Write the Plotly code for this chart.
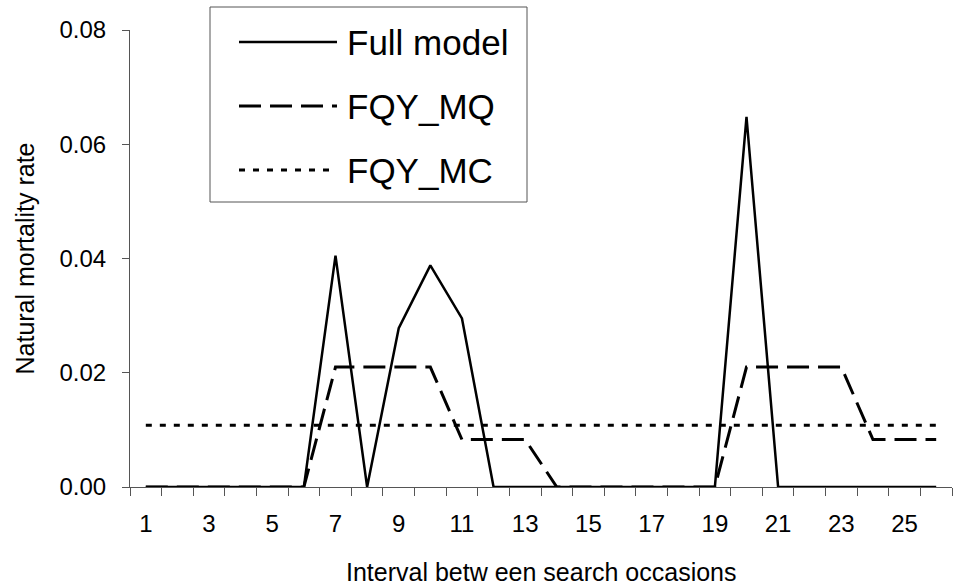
import plotly.graph_objects as go

# ---- data ----
intervals = list(range(1, 27))
full_model = [0, 0, 0, 0, 0, 0, 0.0405, 0, 0.0278, 0.0388, 0.0295, 0, 0, 0, 0, 0, 0, 0, 0,
              0.0648, 0, 0, 0, 0, 0, 0]
fqy_mq = [0, 0, 0, 0, 0, 0, 0.021, 0.021, 0.021, 0.021, 0.0083, 0.0083, 0.0083, 0, 0, 0, 0, 0, 0,
          0.021, 0.021, 0.021, 0.021, 0.0083, 0.0083, 0.0083]
fqy_mc = [0.0108] * 26
series_names = ["Full model", "FQY_MQ", "FQY_MC"]
x_tick_vals = list(range(1, 27, 2))
x_tick_text = [str(v) for v in x_tick_vals]
y_tick_vals = [0, 0.02, 0.04, 0.06, 0.08]
y_tick_text = ["0.00", "0.02", "0.04", "0.06", "0.08"]
x_title = "Interval betw een search occasions"
y_title = "Natural mortality rate"

W, H = 956, 588
L, R, T, B = 130, 4, 30, 101
PW, PH = W - L - R, H - T - B

FONT = "Arial, 'Liberation Sans', sans-serif"
styles = [
    dict(color="black", width=2.5, dash="solid"),
    dict(color="black", width=3, dash="22px,9px"),
    dict(color="black", width=3, dash="6px,8px"),
]

fig = go.Figure()
for name, ys, st in zip(series_names, [full_model, fqy_mq, fqy_mc], styles):
    fig.add_trace(go.Scatter(x=intervals, y=ys, mode="lines", name=name, line=st,
                             showlegend=False))

# custom legend (box + samples + labels), positions in pixels -> paper
def px(x):
    return (x - L) / PW

def py(y):
    return (H - B - y) / PH

shapes = [dict(type="rect", xref="paper", yref="paper", x0=px(210), x1=px(527), y0=py(202), y1=py(7),
               line=dict(color="#555555", width=1), fillcolor="white", layer="above")]
annots = []
rows_y = [42, 106, 170]
for name, st, ry in zip(series_names, styles, rows_y):
    shapes.append(dict(type="line", xref="paper", yref="paper", x0=px(239), x1=px(337),
                       y0=py(ry), y1=py(ry), line=st, layer="above"))
    annots.append(dict(text=name, xref="paper", yref="paper", x=px(345), y=py(ry), xanchor="left",
                       yanchor="middle", showarrow=False, font=dict(size=35, color="black", family=FONT)))

# x-axis title as annotation (placed precisely)
annots.append(dict(text=x_title, xref="paper", yref="paper", x=0.5, y=py(572), xanchor="center",
                   yanchor="middle", showarrow=False, borderpad=0,
                   font=dict(size=25, color="black", family=FONT)))

fig.update_layout(
    width=W, height=H,
    margin=dict(l=L, r=R, t=T, b=B, pad=0),
    paper_bgcolor="white", plot_bgcolor="white",
    font=dict(family=FONT, color="black", size=24),
    shapes=shapes, annotations=annots,
    showlegend=False,
)
fig.update_xaxes(
    range=[0.5, 26.5], tickmode="array", tickvals=x_tick_vals, ticktext=x_tick_text,
    ticks="", ticklabelstandoff=15, showline=True, linecolor="#555555", linewidth=1,
    showgrid=False, zeroline=False, tickfont=dict(size=24),
    minor=dict(tick0=0.5, dtick=1, ticks="outside", ticklen=8, tickcolor="#555555", tickwidth=1, showgrid=False),
)
fig.update_yaxes(
    range=[0, 0.08], tickmode="array", tickvals=y_tick_vals, ticktext=y_tick_text,
    ticks="outside", ticklen=7, tickcolor="#555555", showline=True, linecolor="#555555", linewidth=1,
    showgrid=False, zeroline=False, tickfont=dict(size=24), ticklabelstandoff=11,
    title=dict(text=y_title, font=dict(size=25), standoff=17),
)

fig.write_html("out.html", config={"displayModeBar": False},
               post_script="document.body.style.margin='0';document.body.style.padding='0';")
